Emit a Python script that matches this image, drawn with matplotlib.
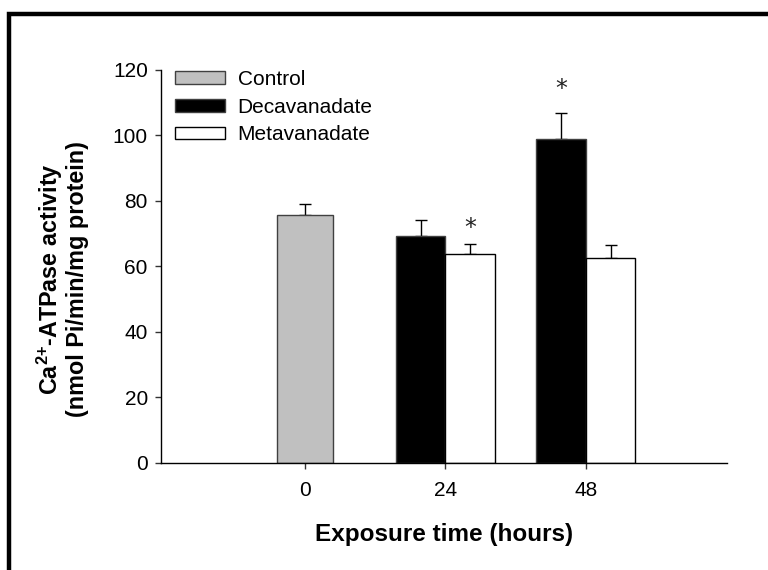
import numpy as np
import matplotlib
matplotlib.use('Agg')
import matplotlib.pyplot as plt
from matplotlib.patches import Rectangle

plt.rcParams['font.family'] = ['Liberation Sans', 'DejaVu Sans']
plt.rcParams['mathtext.fontset'] = 'custom'
plt.rcParams['mathtext.rm'] = 'Liberation Sans'
plt.rcParams['mathtext.bf'] = 'Liberation Sans:bold'

# data
times = ['0', '24', '48']
control = [75.8]
control_err = [3.2]
deca = [69.2, 98.9]
deca_err = [5.1, 7.9]
meta = [63.9, 62.6]
meta_err = [2.9, 3.8]
star_x = [1.175, 1.825]      # metavanadate 24 h, decavanadate 48 h
star_y = [73.1, 115.5]


fig = plt.figure(figsize=(7.68, 5.70), dpi=100)
ax = fig.add_axes([0.2096, 0.1882, 0.737, 0.689])

# frame around the whole figure
fig.patches.append(Rectangle((9 / 768, -0.05), 1.1, (570 - 14) / 570 + 0.05,
                             transform=fig.transFigure, fill=False,
                             edgecolor='black', linewidth=3.2, zorder=10))

x = np.arange(len(times))
w = 0.352
edge = '#404040'

ax.bar(x[0], control, width=0.40, color='#c0c0c0', edgecolor=edge,
       linewidth=1, label='Control', zorder=2)
ax.bar(x[1:] - w / 2, deca, width=w, color='black', edgecolor=edge,
       linewidth=1, label='Decavanadate', zorder=2)
ax.bar(x[1:] + w / 2, meta, width=w, color='white', edgecolor='black',
       linewidth=1, label='Metavanadate', zorder=2)

err_kw = dict(fmt='none', ecolor='black', elinewidth=1, capsize=4.2,
              capthick=1, zorder=1)
ax.errorbar(x[:1], control, yerr=[np.zeros(1), control_err], **err_kw)
ax.errorbar(x[1:] - w / 2, deca, yerr=[np.zeros(2), deca_err], **err_kw)
ax.errorbar(x[1:] + w / 2, meta, yerr=[np.zeros(2), meta_err], **err_kw)

for sx, sy in zip(star_x, star_y):
    ax.annotate('*', (sx, sy), xytext=(0, -3), textcoords='offset points',
                ha='center', va='center', fontsize=17,
                family='DejaVu Sans', color='#222222')

ax.set_xlim(-1.025, 3.005)
ax.set_ylim(0, 120)
ax.set_xticks(x)
ax.set_xticklabels(times)
ax.set_yticks(np.arange(0, 121, 20))
ax.tick_params(labelsize=15, direction='out', length=4.5, width=1,
               color='#333333')
ax.tick_params(axis='y', pad=5)
ax.tick_params(axis='x', pad=9)
for s in ['top', 'right']:
    ax.spines[s].set_visible(False)
for s in ['left', 'bottom']:
    ax.spines[s].set_linewidth(1)

ax.set_xlabel('Exposure time (hours)', fontsize=17.5, fontweight='bold',
              labelpad=16)
ax.set_ylabel(r'Ca$^{\mathbf{2{+}}}$-ATPase activity' + '\n(nmol Pi/min/mg protein)',
              fontsize=16.8, fontweight='bold', linespacing=1.05)
ax.yaxis.set_label_coords(-0.127, 0.467)

ax.legend(loc='upper left', bbox_to_anchor=(0.025, 1.0), frameon=False,
          fontsize=15, handlelength=2.4, handleheight=0.55,
          handletextpad=0.6, labelspacing=0.42, borderpad=0,
          borderaxespad=0)

fig.savefig('out.png', dpi=100)
